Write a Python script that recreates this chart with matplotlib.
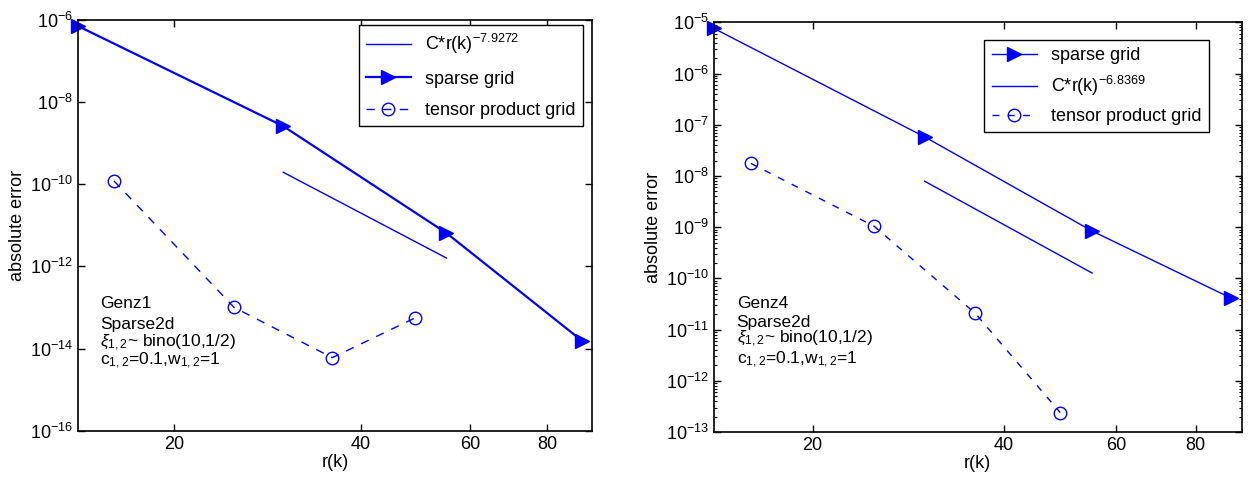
import matplotlib
matplotlib.use('Agg')
import matplotlib.pyplot as plt
from matplotlib.ticker import FixedLocator, NullLocator, ScalarFormatter, LogLocator

plt.rcParams['font.family'] = ['Liberation Sans', 'DejaVu Sans']
plt.rcParams['mathtext.fontset'] = 'custom'
plt.rcParams['mathtext.rm'] = 'Liberation Sans'
plt.rcParams['mathtext.it'] = 'Liberation Sans:italic'
plt.rcParams['font.size'] = 13

# number of points
r_sparse = [14, 30, 55, 91]
r_tensor = [16, 25, 36, 49]
r_fit = [30, 55]

# Genz1 (left)
err1_sparse = [7.1e-7, 2.6e-9, 6.5e-12, 1.55e-14]
err1_tensor = [1.2e-10, 1.0e-13, 6.0e-15, 5.6e-14]
err1_fit = [1.96e-10, 1.6e-12]
lab1_fit = r'C*r(k)$^{-7.9272}$'

# Genz4 (right)
err4_sparse = [7.6e-6, 5.8e-8, 8.4e-10, 4.1e-11]
err4_tensor = [1.76e-8, 1.04e-9, 2.1e-11, 2.4e-13]
err4_fit = [7.9e-9, 1.27e-10]
lab4_fit = r'C*r(k)$^{-6.8369}$'

blue = '#0000ff'
fig = plt.figure(figsize=(12.51, 4.78), dpi=100)
ax1 = fig.add_axes([0.0624, 0.0990, 0.4109, 0.8592])
ax2 = fig.add_axes([0.5707, 0.0962, 0.4219, 0.8571])


def style(ax):
    ax.set_xscale('log')
    ax.set_yscale('log')
    ax.set_xlim(14, 94.5)
    ax.xaxis.set_major_locator(FixedLocator([20, 40, 60, 80]))
    ax.xaxis.set_major_formatter(ScalarFormatter())
    ax.xaxis.set_minor_locator(NullLocator())
    ax.tick_params(which='both', direction='in', top=True, right=True, labelsize=13)
    ax.tick_params(which='major', length=5, width=1)
    ax.tick_params(which='minor', length=2.5, width=0.8)
    for s in ax.spines.values():
        s.set_linewidth(1.2)
    ax.set_xlabel('r(k)', labelpad=1)
    ax.set_ylabel('absolute error', labelpad=3)


def notes(ax, name, ys):
    lines = [name, 'Sparse2d', r'$\xi_{1,2}$~ bino(10,1/2)', r'c$_{1,2}$=0.1,w$_{1,2}$=1']
    for t, y in zip(lines, ys):
        ax.text(0.043, y, t, transform=ax.transAxes, fontsize=12.5, va='baseline')


# left panel
style(ax1)
l_fit, = ax1.plot(r_fit, err1_fit, '-', color=blue, lw=1.0)
l_sp, = ax1.plot(r_sparse, err1_sparse, '->', color=blue, lw=1.6, ms=10, clip_on=False)
l_tp, = ax1.plot(r_tensor, err1_tensor, '--o', color=blue, lw=1.0, ms=9, mfc='none',
                 dashes=(6, 6))
ax1.set_ylim(1e-16, 1e-6)
ax1.yaxis.set_major_locator(FixedLocator([1e-16, 1e-14, 1e-12, 1e-10, 1e-8, 1e-6]))
ax1.yaxis.set_minor_locator(NullLocator())
leg = ax1.legend([l_fit, l_sp, l_tp], [lab1_fit, 'sparse grid', 'tensor product grid'],
                 loc='upper right', bbox_to_anchor=(0.9825, 0.9878), borderaxespad=0,
                 fontsize=13, fancybox=False, edgecolor='black',
                 handlelength=2.5, labelspacing=0.8, framealpha=1)
leg.get_frame().set_linewidth(1.0)
notes(ax1, 'Genz1', [0.298, 0.247, 0.2045, 0.160])

# right panel
style(ax2)
r_sp, = ax2.plot(r_sparse, err4_sparse, '->', color=blue, lw=1.0, ms=10, clip_on=False)
r_fitl, = ax2.plot(r_fit, err4_fit, '-', color=blue, lw=1.0)
r_tp, = ax2.plot(r_tensor, err4_tensor, '--o', color=blue, lw=1.0, ms=9, mfc='none',
                 dashes=(5, 6))
ax2.set_ylim(1e-13, 1e-5)
ax2.yaxis.set_major_locator(FixedLocator([10.0 ** e for e in range(-13, -4)]))
ax2.yaxis.set_minor_locator(LogLocator(base=10, subs=range(2, 10), numticks=20))
leg2 = ax2.legend([r_sp, r_fitl, r_tp], ['sparse grid', lab4_fit, 'tensor product grid'],
                  loc='upper right', bbox_to_anchor=(0.938, 0.9568), borderaxespad=0,
                  fontsize=13, fancybox=False, edgecolor='black',
                  handlelength=2.5, labelspacing=0.55, framealpha=1)
leg2.get_frame().set_linewidth(1.0)
notes(ax2, 'Genz4', [0.302, 0.256, 0.2166, 0.166])

fig.savefig('out.png', dpi=100)
